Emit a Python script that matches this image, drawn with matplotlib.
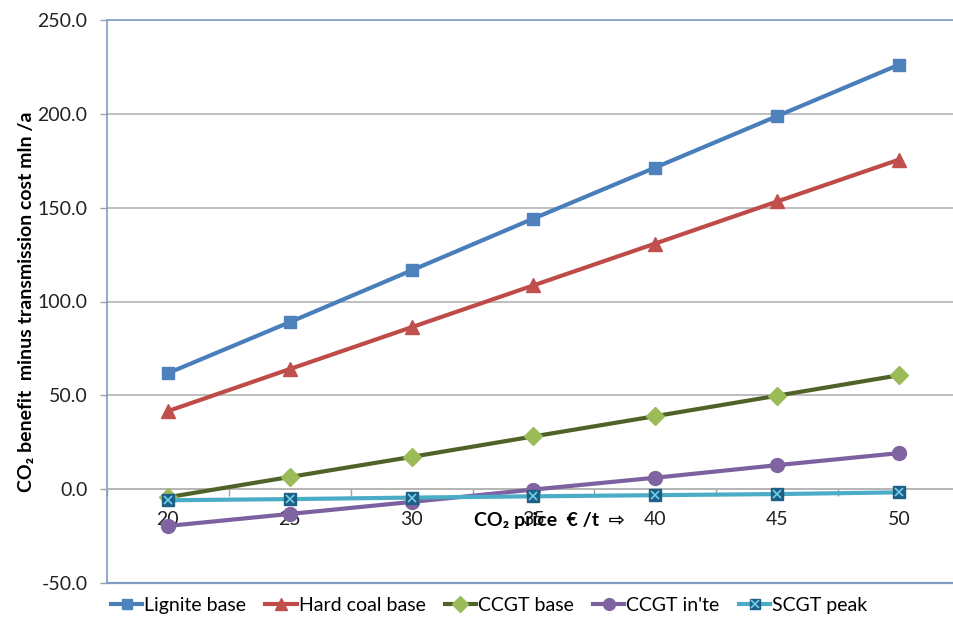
import matplotlib.pyplot as plt
from matplotlib.legend_handler import HandlerTuple
from matplotlib.ticker import FixedLocator, FuncFormatter

plt.rcParams['font.family'] = ['Lato', 'DejaVu Sans']

# CO2 price steps (€/t) and net benefit per plant type (mln/a)
co2_prices = [20, 25, 30, 35, 40, 45, 50]
lignite_base = [61.8, 89.0, 116.6, 144.2, 171.4, 198.8, 226.2]
hard_coal_base = [41.6, 64.0, 86.3, 108.6, 130.9, 153.3, 175.6]
ccgt_base = [-4.3, 6.5, 17.2, 28.1, 38.9, 49.8, 60.7]
ccgt_inte = [-19.6, -13.2, -6.8, -0.2, 6.1, 12.8, 19.2]
scgt_peak = [-5.9, -5.3, -4.5, -3.8, -3.2, -2.6, -1.7]

y_ticks = [-50, 0, 50, 100, 150, 200, 250]

fig = plt.figure(figsize=(9.54, 6.28), dpi=100)
ax = fig.add_axes([107 / 954, 45 / 628, 853 / 954, 563 / 628])

xpos = list(range(len(co2_prices)))
lw = 3.0

h1, = ax.plot(xpos, lignite_base, color='#4A7EBB', lw=lw, marker='s', ms=9,
              mfc='#4F81BD', mec='#4F81BD', zorder=3)
h2, = ax.plot(xpos, hard_coal_base, color='#BE4B48', lw=lw, marker='^', ms=10,
              mfc='#C0504D', mec='#C0504D', zorder=3)
h3, = ax.plot(xpos, ccgt_base, color='#4F6228', lw=lw, marker='D', ms=9,
              mfc='#9BBB59', mec='#9BBB59', zorder=3)
h4, = ax.plot(xpos, ccgt_inte, color='#7D60A0', lw=lw, marker='o', ms=10,
              mfc='#8064A2', mec='#8064A2', zorder=3)
h5a, = ax.plot(xpos, scgt_peak, color='#4BACC6', lw=lw, marker='s', ms=9,
               mfc='#1F5F86', mec='#1F5F86', zorder=4)
h5b, = ax.plot(xpos, scgt_peak, ls='none', marker='x', ms=6, mew=1.2,
               color='#6FD0EA', zorder=5)

ax.set_xlim(-0.5, len(co2_prices) - 0.5)
ax.set_ylim(-50, 250)

# y axis
ax.yaxis.set_major_locator(FixedLocator(y_ticks))
ax.yaxis.set_major_formatter(FuncFormatter(lambda v, p: f'{v:.1f}'))
ax.tick_params(axis='y', direction='out', length=5, width=1, color='#A0A0A0',
               labelsize=14, pad=9, labelcolor='#222222')
ax.grid(axis='y', color='#B4B4B4', lw=1.2, zorder=0)

# category x axis crossing at zero
ax.spines['bottom'].set_position(('data', 0))
ax.spines['bottom'].set_color('#B4B4B4')
ax.spines['bottom'].set_linewidth(1.2)
ax.set_xticks(xpos)
ax.set_xticklabels([str(p) for p in co2_prices])
ax.set_xticks([i - 0.5 for i in range(len(co2_prices) + 1)], minor=True)
ax.tick_params(axis='x', which='major', length=0, labelsize=14, pad=16,
               labelcolor='#222222')
ax.tick_params(axis='x', which='minor', length=5, width=1, color='#A0A0A0',
               direction='out')

frame = '#7F9CC6'
ax.spines['left'].set_color(frame)
ax.spines['left'].set_linewidth(1.2)
ax.spines['top'].set_color(frame)
ax.spines['top'].set_linewidth(1.2)
ax.spines['right'].set_visible(False)
ax.axhline(-50, color=frame, lw=1.6, clip_on=False, zorder=2)

ax.set_ylabel('CO₂ benefit  minus transmission cost mln /a', fontsize=14,
              fontweight='bold', labelpad=2)
ax.text(3.13, -16.5, 'CO₂ price  € /t  ⇨', fontsize=14, fontweight='bold',
        ha='center', va='center', zorder=6)

leg = fig.legend([h1, h2, h3, h4, (h5a, h5b)],
                 ['Lignite base', 'Hard coal base', 'CCGT base', "CCGT in'te",
                  'SCGT peak'],
                 handler_map={tuple: HandlerTuple(ndivide=1, pad=0)},
                 loc='lower left', bbox_to_anchor=(0.098, -0.005), ncol=5,
                 frameon=False, fontsize=14, handlelength=1.6,
                 handletextpad=0.1, columnspacing=1.0, markerscale=0.85)

fig.savefig('out.png', dpi=100)
